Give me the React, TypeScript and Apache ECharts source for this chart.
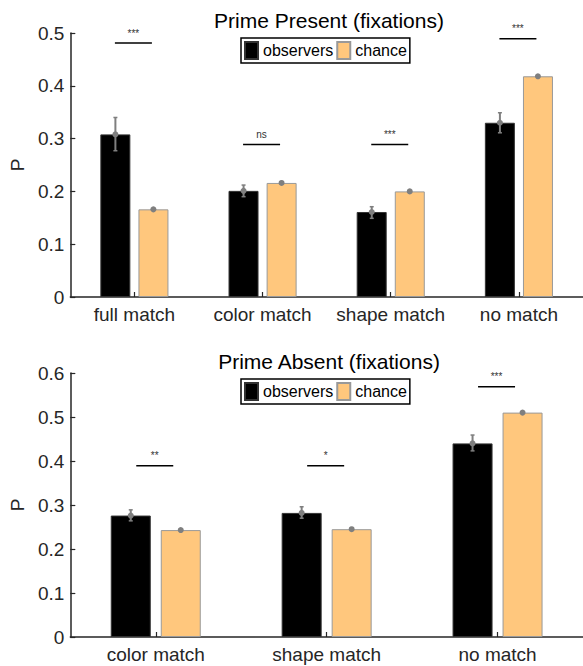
import React, { useEffect, useRef } from "react";
import * as echarts from "echarts";

const topCategories = ["full match", "color match", "shape match", "no match"];
const topObservers = [0.308, 0.201, 0.161, 0.33];
const topObsLow = [0.277, 0.19, 0.149, 0.311];
const topObsHigh = [0.34, 0.212, 0.171, 0.349];
const topChance = [0.166, 0.216, 0.2, 0.418];
const topSigY = [0.481, 0.289, 0.289, 0.489];
const topSigLabels = ["***", "ns", "***", "***"];

const bottomCategories = ["color match", "shape match", "no match"];
const bottomObservers = [0.276, 0.282, 0.44];
const bottomObsLow = [0.264, 0.27, 0.423];
const bottomObsHigh = [0.289, 0.296, 0.459];
const bottomChance = [0.243, 0.245, 0.51];
const bottomSigY = [0.389, 0.389, 0.569];
const bottomSigLabels = ["**", "*", "***"];

const FONT = "'Liberation Sans', Arial, Helvetica, sans-serif";
const TXT = "#262626";
const ORANGE = "#FFC77D";
const GRAY = "#7f7f7f";

function errSeries(idx: number, means: number[], lows: number[], highs: number[], offset: number) {
  return {
    type: "custom",
    xAxisIndex: idx,
    yAxisIndex: idx,
    silent: true,
    z: 10,
    data: means.map((m, i) => [i, m, lows[i], highs[i]]),
    renderItem: (params: any, api: any) => {
      const c = api.value(0);
      const p = api.coord([c, api.value(1)]);
      const pl = api.coord([c, api.value(2)]);
      const ph = api.coord([c, api.value(3)]);
      const x = p[0] + offset;
      const children: any[] = [];
      if (Math.abs(pl[1] - ph[1]) > 1) {
        children.push(
          { type: "line", shape: { x1: x, y1: pl[1], x2: x, y2: ph[1] }, style: { stroke: GRAY, lineWidth: 2 } },
          { type: "line", shape: { x1: x - 2, y1: pl[1], x2: x + 2, y2: pl[1] }, style: { stroke: GRAY, lineWidth: 1.5 } },
          { type: "line", shape: { x1: x - 2, y1: ph[1], x2: x + 2, y2: ph[1] }, style: { stroke: GRAY, lineWidth: 1.5 } }
        );
      }
      children.push({ type: "circle", shape: { cx: x, cy: p[1], r: 3 }, style: { fill: GRAY, stroke: "none" } });
      return { type: "group", children };
    },
  };
}

function sigSeries(idx: number, ys: number[], labels: string[], halfWidth: number) {
  return {
    type: "custom",
    xAxisIndex: idx,
    yAxisIndex: idx,
    silent: true,
    z: 10,
    data: ys.map((y, i) => [i, y]),
    renderItem: (params: any, api: any) => {
      const i = api.value(0);
      const p = api.coord([i, api.value(1)]);
      const x = p[0] - 1;
      return {
        type: "group",
        children: [
          { type: "line", shape: { x1: x - halfWidth, y1: p[1], x2: x + halfWidth, y2: p[1] }, style: { stroke: "#000", lineWidth: 1.5 } },
          {
            type: "text",
            x: x,
            y: p[1] - 10,
            style: {
              text: labels[i],
              align: "center",
              verticalAlign: "middle",
              font: `10px ${FONT}`,
              fill: "#333",
              stroke: "none",
              lineWidth: 0,
            },
          },
        ],
      };
    },
  };
}

function yAxis(idx: number, max: number) {
  return {
    type: "value",
    gridIndex: idx,
    min: 0,
    max,
    interval: 0.1,
    name: "P",
    nameLocation: "middle",
    nameGap: 41,
    nameRotate: 90,
    nameTextStyle: { fontSize: 19, color: TXT, fontFamily: FONT },
    axisLine: { show: true, lineStyle: { color: TXT, width: 1.5 } },
    axisTick: { show: true, inside: true, length: 5, lineStyle: { color: TXT, width: 1.2 } },
    axisLabel: { fontSize: 19, color: TXT, fontFamily: FONT, margin: 6 },
    splitLine: { show: false },
  };
}

function xAxis(idx: number, data: string[]) {
  return {
    type: "category",
    gridIndex: idx,
    data,
    axisLine: { show: true, lineStyle: { color: TXT, width: 1.5 } },
    axisTick: { show: true, inside: true, length: 5, alignWithLabel: true, lineStyle: { color: TXT, width: 1.2 } },
    axisLabel: { fontSize: 19, color: TXT, fontFamily: FONT, margin: 8, interval: 0 },
  };
}

function legend(top: number) {
  return {
    data: ["observers", "chance"],
    left: 241,
    top,
    orient: "horizontal",
    icon: "rect",
    itemWidth: 13,
    itemHeight: 17,
    itemGap: 3,
    padding: [3, 3],
    borderColor: "#000",
    borderWidth: 1.5,
    backgroundColor: "#fff",
    selectedMode: false,
    textStyle: { fontSize: 16, color: "#000", fontFamily: FONT },
  };
}

export default function App() {
  const ref = useRef<HTMLDivElement>(null);
  useEffect(() => {
    if (!ref.current) return;
    const chart = echarts.init(ref.current, undefined, { renderer: "svg" });
    chart.setOption({
      animation: false,
      backgroundColor: "#fff",
      title: [
        {
          text: "Prime Present (fixations)",
          left: 324,
          textAlign: "center",
          top: 5,
          textStyle: { fontSize: 21, fontWeight: "normal", color: "#000", fontFamily: FONT },
        },
        {
          text: "Prime Absent (fixations)",
          left: 324,
          textAlign: "center",
          top: 346,
          textStyle: { fontSize: 21, fontWeight: "normal", color: "#000", fontFamily: FONT },
        },
      ],
      legend: [legend(38), legend(379)],
      grid: [
        { left: 63, top: 33, width: 520, height: 264 },
        { left: 63, top: 373, width: 520, height: 264 },
      ],
      xAxis: [xAxis(0, topCategories), xAxis(1, bottomCategories)],
      yAxis: [yAxis(0, 0.5), yAxis(1, 0.6)],
      series: [
        {
          name: "observers",
          type: "bar",
          xAxisIndex: 0,
          yAxisIndex: 0,
          data: topObservers,
          barWidth: 30,
          barGap: "27%",
          itemStyle: { color: "#000", borderColor: "#333", borderWidth: 1 },
        },
        {
          name: "chance",
          type: "bar",
          xAxisIndex: 0,
          yAxisIndex: 0,
          data: topChance,
          barWidth: 30,
          barGap: "27%",
          itemStyle: { color: ORANGE, borderColor: "#999", borderWidth: 1 },
        },
        errSeries(0, topObservers, topObsLow, topObsHigh, -19),
        errSeries(0, topChance, topChance, topChance, 19),
        sigSeries(0, topSigY, topSigLabels, 18.5),
        {
          name: "observers",
          type: "bar",
          xAxisIndex: 1,
          yAxisIndex: 1,
          data: bottomObservers,
          barWidth: 40,
          barGap: "25%",
          itemStyle: { color: "#000", borderColor: "#333", borderWidth: 1 },
        },
        {
          name: "chance",
          type: "bar",
          xAxisIndex: 1,
          yAxisIndex: 1,
          data: bottomChance,
          barWidth: 40,
          barGap: "25%",
          itemStyle: { color: ORANGE, borderColor: "#999", borderWidth: 1 },
        },
        errSeries(1, bottomObservers, bottomObsLow, bottomObsHigh, -25),
        errSeries(1, bottomChance, bottomChance, bottomChance, 25),
        sigSeries(1, bottomSigY, bottomSigLabels, 18.5),
      ],
    });
    return () => chart.dispose();
  }, []);
  return <div ref={ref} style={{ position: "absolute", left: 0, top: 0, width: 583, height: 666 }} />;
}
